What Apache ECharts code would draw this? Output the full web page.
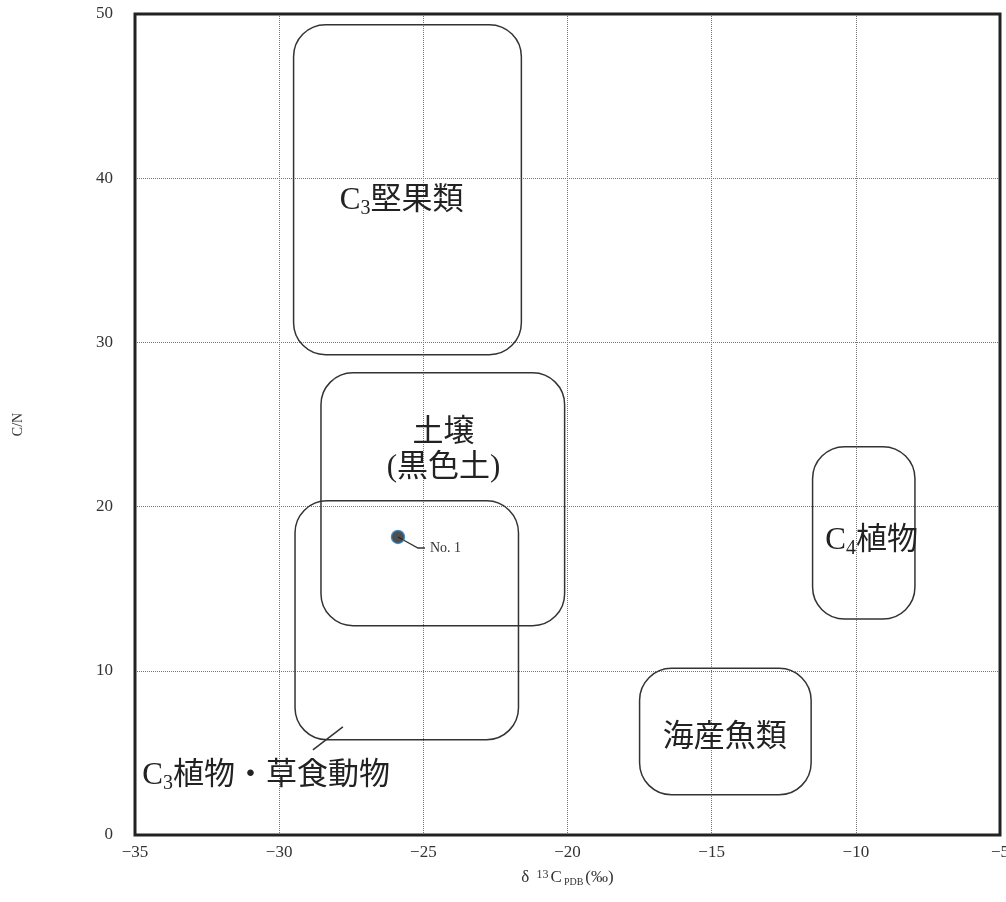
<!DOCTYPE html>
<html>
<head>
<meta charset="utf-8">
<script src="https://cdn.jsdelivr.net/npm/echarts@6/dist/echarts.min.js"></script>
<style>
    html, body { margin: 0; padding: 0; background: #fff; }
    #chart { width: 1006px; height: 902px; }
</style>
</head>
<body>
<div id="chart"></div>
<script>
'use strict';

const xTicks = [-35, -30, -25, -20, -15, -10, -5];
const yTicks = [0, 10, 20, 30, 40, 50];

// region boxes (data units) and where each label sits
const regionLabels = ['C{s|3}堅果類', '土壌\n(黒色土)', 'C{s|3}植物・草食動物', '海産魚類', 'C{s|4}植物'];
const regionX1 = [-29.5, -28.55, -29.45, -17.5, -11.5];
const regionX2 = [-21.6, -20.1, -21.7, -11.55, -7.95];
const regionY1 = [29.25, 12.75, 5.8, 2.45, 13.15];
const regionY2 = [49.35, 28.15, 20.35, 10.15, 23.65];
const labelX = [-25.75, -24.3, -34.75, -14.55, -9.45];
const labelY = [38.6, 23.45, 3.6, 5.9, 17.9];
const labelAlign = ['center', 'center', 'left', 'center', 'center'];

// pointer from the C3 plant label to its box
const pointerX = [-28.83, -27.79];
const pointerY = [5.18, 6.58];

// sample
const sampleNames = ['No. 1'];
const sampleX = [-25.88];
const sampleY = [18.15];

const serif = '"Liberation Serif", "Noto Sans CJK JP", serif';
const minus = (v) => String(v).replace('-', '\u2212');

const subRich = {
    s: { fontSize: 20, fontFamily: serif, color: '#222', padding: [26, 0, 0, 0], verticalAlign: 'bottom' }
};

const chart = echarts.init(document.getElementById('chart'), null, { renderer: 'canvas' });

chart.setOption({
    animation: false,
    backgroundColor: '#fff',
    grid: {
        left: 135, right: 6, top: 14, bottom: 67,
        outerBoundsMode: 'none',
        containLabel: false
    },
    xAxis: {
        type: 'value', min: xTicks[0], max: xTicks[xTicks.length - 1], interval: 5,
        axisLine: { show: false }, axisTick: { show: false },
        axisLabel: { margin: 9, color: '#333', fontSize: 17, fontFamily: serif, formatter: minus },
        splitLine: { lineStyle: { type: 'dotted', color: '#777', width: 1 } },
        name: 'δ {sup|13}C{sub|PDB}(‰)',
        nameLocation: 'middle', nameGap: 34,
        nameTextStyle: {
            color: '#333', fontSize: 17, fontFamily: serif,
            rich: {
                sup: { fontSize: 12, fontFamily: serif, color: '#333', verticalAlign: 'top', padding: [0, 2, 6, 3] },
                sub: { fontSize: 10, fontFamily: serif, color: '#333', verticalAlign: 'bottom', padding: [7, 2, 0, 2] }
            }
        }
    },
    yAxis: {
        type: 'value', min: yTicks[0], max: yTicks[yTicks.length - 1], interval: 10,
        axisLine: { show: false }, axisTick: { show: false },
        axisLabel: { margin: 22, color: '#333', fontSize: 17, fontFamily: serif },
        splitLine: { lineStyle: { type: 'dotted', color: '#777', width: 1 } },
        name: 'C/N', nameLocation: 'middle', nameGap: 110,
        nameTextStyle: { color: '#333', fontSize: 14, fontFamily: serif }
    },
    series: [
        {
            type: 'custom',
            coordinateSystem: 'cartesian2d',
            data: regionLabels.map((t, i) => [regionX1[i], regionX2[i], regionY1[i], regionY2[i], labelX[i], labelY[i]]),
            renderItem: (params, api) => {
                const i = params.dataIndex;
                const a = api.coord([api.value(0), api.value(3)]);
                const b = api.coord([api.value(1), api.value(2)]);
                const l = api.coord([api.value(4), api.value(5)]);
                return {
                    type: 'group',
                    children: [
                        {
                            type: 'rect',
                            shape: { x: a[0], y: a[1], width: b[0] - a[0], height: b[1] - a[1], r: 32 },
                            style: { fill: 'none', stroke: '#333', lineWidth: 1.5 }
                        },
                        {
                            type: 'text', x: l[0], y: l[1],
                            style: {
                                text: regionLabels[i], fill: '#222', fontSize: 31, fontFamily: serif,
                                lineHeight: 35, align: labelAlign[i], verticalAlign: 'middle', rich: subRich
                            }
                        }
                    ]
                };
            },
            z: 3
        },
        {
            type: 'line',
            data: pointerX.map((x, i) => [x, pointerY[i]]),
            symbol: 'none',
            lineStyle: { color: '#333', width: 1.5 },
            z: 3
        },
        {
            type: 'custom',
            coordinateSystem: 'cartesian2d',
            data: sampleX.map((x, i) => [x, sampleY[i]]),
            renderItem: (params, api) => {
                const p = api.coord([api.value(0), api.value(1)]);
                return {
                    type: 'group',
                    children: [
                        {
                            type: 'polyline',
                            shape: { points: [[p[0], p[1]], [p[0] + 20, p[1] + 11], [p[0] + 27, p[1] + 11]] },
                            style: { stroke: '#333', lineWidth: 1.3, fill: 'none' }
                        },
                        {
                            type: 'text', x: p[0] + 32, y: p[1] + 11,
                            style: {
                                text: sampleNames[params.dataIndex], fill: '#333', fontSize: 14,
                                fontFamily: serif, align: 'left', verticalAlign: 'middle'
                            }
                        }
                    ]
                };
            },
            z: 4
        },
        {
            type: 'scatter',
            data: sampleX.map((x, i) => [x, sampleY[i]]),
            symbolSize: 13,
            itemStyle: { color: '#222', borderColor: '#2a7fc0', borderWidth: 1.5 },
            z: 5
        },
        {
            // plot frame drawn over the grid lines
            type: 'custom',
            coordinateSystem: 'cartesian2d',
            data: [[xTicks[0], yTicks[0]]],
            silent: true,
            renderItem: (params) => {
                const cs = params.coordSys;
                return {
                    type: 'rect',
                    shape: { x: cs.x, y: cs.y, width: cs.width, height: cs.height },
                    style: { fill: 'none', stroke: '#222', lineWidth: 3 }
                };
            },
            z: 10
        }
    ]
});
</script>
</body>
</html>
